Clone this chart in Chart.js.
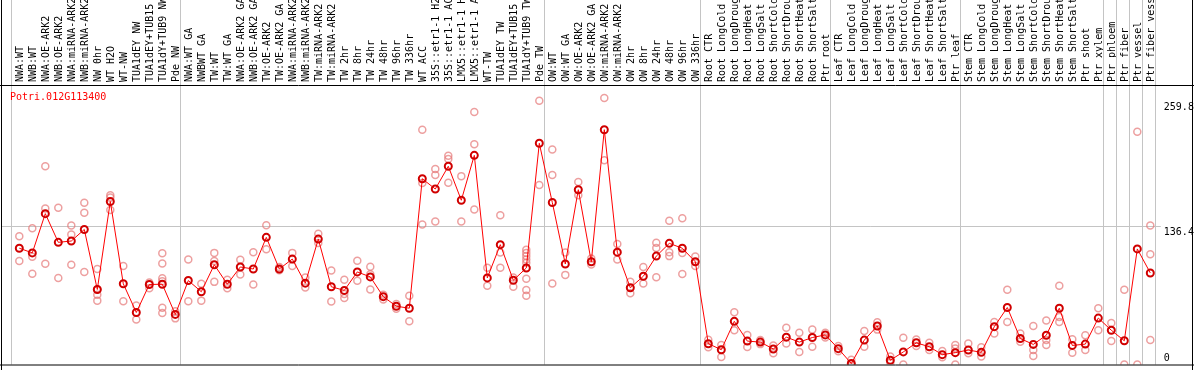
<!DOCTYPE html>
<html>
<head>
<meta charset="utf-8">
<script src="https://cdn.jsdelivr.net/npm/chart.js@4.4.1/dist/chart.umd.min.js"></script>
<style>
  html, body { margin: 0; padding: 0; background: #fff; }
</style>
</head>
<body>
<canvas id="chart" width="1194" height="370"></canvas>
<script>
const geneName = "Potri.012G113400";

const categories = [
  "NWA:WT", "NWB:WT", "NWA:OE-ARK2", "NWB:OE-ARK2", "NWA:miRNA-ARK2", "NWB:miRNA-ARK2",
  "NW 0hr", "WT H2O", "WT-NW", "TUA1dEY NW", "TUA1dEY+TUB15", "TUA1dY+TUB9 NW", "Pde NW",
  "NWA:WT GA", "NWBWT GA", "TW:WT", "TW:WT GA", "NWA:OE-ARK2 GA", "NWB:OE-ARK2 GA",
  "TW:OE-ARK2", "TW:OE-ARK2 GA", "NWA:miRNA-ARK2", "NWB:miRNA-ARK2", "TW:miRNA-ARK2", "TW:miRNA-ARK2",
  "TW 2hr", "TW 8hr", "TW 24hr", "TW 48hr", "TW 96hr", "TW 336hr", "WT ACC",
  "35S::etr1-1 H2", "35S::etr1-1 AC", "LMX5::etr1-1 H", "LMX5::etr1-1 A",
  "WT-TW", "TUA1dEY TW", "TUA1dEY+TUB15", "TUA1dY+TUB9 TW", "Pde TW",
  "OW:WT", "OW:WT GA", "OW:OE-ARK2", "OW:OE-ARK2 GA", "OW:miRNA-ARK2", "OW:miRNA-ARK2",
  "OW 2hr", "OW 8hr", "OW 24hr", "OW 48hr", "OW 96hr", "OW 336hr",
  "Root CTR", "Root LongCold", "Root LongDroug", "Root LongHeat", "Root LongSalt",
  "Root ShortCold", "Root ShortDrou", "Root ShortHeat", "Root ShortSalt", "Ptr root",
  "Leaf CTR", "Leaf LongCold", "Leaf LongDroug", "Leaf LongHeat", "Leaf LongSalt",
  "Leaf ShortCold", "Leaf ShortDrou", "Leaf ShortHeat", "Leaf ShortSalt", "Ptr leaf",
  "Stem CTR", "Stem LongCold", "Stem LongDroug", "Stem LongHeat", "Stem LongSalt",
  "Stem ShortCold", "Stem ShortDrou", "Stem ShortHeat", "Stem ShortSalt", "Ptr shoot",
  "Ptr xylem", "Ptr phloem", "Ptr fiber", "Ptr vessel", "Ptr fiber vess"
];

const meanValues = [
  114.7, 110.1, 148.8, 120.5, 121.8, 133.2, 74.0, 160.8, 79.6, 51.3, 78.9, 79.2, 49.4,
  82.8, 71.8, 98.4, 79.2, 96.2, 94.2, 125.4, 94.2, 104.0, 80.2, 123.7, 76.7,
  73.1, 91.3, 86.4, 66.9, 57.5, 55.5, 183.2, 173.1, 195.5, 162.0, 206.3,
  85.4, 118.2, 83.1, 95.2, 218.2,
  159.8, 99.1, 172.4, 101.3, 231.6, 110.8, 75.7, 87.0, 106.9, 119.5, 114.7, 101.3,
  20.5, 14.6, 42.6, 23.1, 22.1, 15.3, 27.0, 22.1, 26.6, 29.2,
  15.6, 1.0, 24.1, 38.0, 4.2, 12.4, 21.4, 17.5, 9.7, 11.7,
  14.3, 12.0, 37.3, 56.2, 25.6, 19.8, 28.9, 55.5, 18.8, 20.1, 45.8,
  33.8, 23.4, 114.0, 90.3
];

// individual replicates for each category, same order as categories
const replicateValues = [
  [126.4, 102.0], [134.4, 106.2, 89.6], [195.5, 153.9, 99.4], [154.6, 85.4],
  [137.1, 128.3, 98.4], [159.5, 149.7, 91.3], [94.2, 74.3, 68.9, 63.0], [166.9, 164.6, 152.3],
  [97.1, 62.4], [58.2, 44.5], [80.9, 75.3], [109.8, 99.7, 85.1, 82.2, 55.9, 50.7], [52.6, 45.5],
  [103.6, 62.4], [79.6, 63.0], [110.1, 102.0, 81.5], [83.5, 75.3], [103.3, 88.7],
  [110.8, 78.9], [137.4, 113.7], [96.2, 92.9], [110.1, 97.1], [85.7, 76.0],
  [128.9, 119.8], [92.6, 62.1], [83.5, 69.5, 65.6], [102.3, 82.5], [96.5, 89.0, 74.0],
  [68.9, 64.0], [59.7, 54.9], [67.9, 42.6], [231.6, 179.0, 138.1], [192.9, 186.8, 141.0],
  [205.9, 202.7, 179.3], [185.8, 141.0], [249.1, 217.3, 153.0], [95.5, 77.6],
  [147.1, 110.4, 95.5], [85.7, 76.7], [113.3, 110.1, 106.9, 103.6, 100.4, 84.5, 73.4, 67.9],
  [260.1, 177.0],
  [212.1, 186.8, 79.9], [110.4, 88.4], [179.9, 166.9], [104.6, 98.7], [262.8, 201.4],
  [118.9, 103.6], [81.5, 70.4], [96.2, 79.9], [120.1, 115.0, 86.0], [141.9, 110.8, 106.9],
  [144.2, 110.1, 89.3], [106.5, 97.1],
  [24.4, 16.9], [19.2, 7.5], [51.6, 33.8], [29.2, 17.2], [24.1, 20.1], [18.8, 11.0],
  [36.3, 20.8], [31.2, 12.4], [34.4, 17.5], [31.2, 26.6],
  [18.2, 13.0], [4.6, 0], [33.1, 17.5], [41.6, 34.4], [7.8, 1.9], [26.3, 0],
  [24.7, 18.2], [21.4, 14.3], [13.3, 7.1], [19.2, 15.9, 0],
  [20.8, 11.0], [16.9, 7.8], [41.9, 30.5], [73.8, 41.9], [30.5, 22.4], [38.0, 14.3, 8.5],
  [43.5, 24.1, 19.2], [77.6, 46.8, 41.9], [25.0, 11.7], [28.9, 14.3], [55.5, 33.8],
  [40.9, 23.1], [73.8, 0], [229.6, 0], [137.1, 108.8, 24.1]
];

// first category index of each sample group (last entry closes the final group)
const groupStarts = [0, 13, 41, 53, 63, 73, 84, 85, 86, 87, 88];

const yTicks = [0, 136.4, 259.8];
const gridValues = [136.4];
const yMax = 274.7;

const maxReps = Math.max(...replicateValues.map(r => r.length));
const repDatasets = [];
for (let k = 0; k < maxReps; k++) {
  repDatasets.push({
    label: 'rep ' + (k + 1),
    data: replicateValues.map(r => (r[k] === undefined ? null : r[k])),
    showLine: false,
    borderColor: 'rgba(230, 120, 120, 0.7)',
    backgroundColor: 'transparent',
    pointRadius: 3.5,
    pointBorderWidth: 1.5,
    pointHoverRadius: 3.5
  });
}

const decor = {
  id: 'decor',
  beforeDatasetsDraw(chart) {
    const { ctx, chartArea: a, scales: { x, y } } = chart;
    const colW = x.getPixelForValue(1) - x.getPixelForValue(0);
    ctx.save();
    ctx.strokeStyle = '#c4c4c4';
    ctx.lineWidth = 1;
    groupStarts.forEach(g => {
      const px = Math.round(x.getPixelForValue(g) - colW / 2 - 1.5) + 0.5;
      ctx.beginPath();
      ctx.moveTo(px, 0);
      ctx.lineTo(px, a.bottom);
      ctx.stroke();
    });
    gridValues.forEach(v => {
      const py = Math.round(y.getPixelForValue(v)) + 0.5;
      ctx.beginPath();
      ctx.moveTo(1, py);
      ctx.lineTo(a.right + 4, py);
      ctx.stroke();
    });
    ctx.restore();
  },
  afterDraw(chart) {
    const { ctx, chartArea: a, scales: { y }, width, height } = chart;
    ctx.save();
    ctx.strokeStyle = '#000';
    ctx.lineWidth = 1;
    ctx.beginPath();
    ctx.moveTo(0, a.top - 0.5); ctx.lineTo(width, a.top - 0.5);
    ctx.moveTo(0, a.bottom + 0.5); ctx.lineTo(width, a.bottom + 0.5);
    ctx.moveTo(1.5, 0); ctx.lineTo(1.5, height);
    ctx.moveTo(width - 1.5, 0); ctx.lineTo(width - 1.5, height);
    ctx.stroke();

    ctx.font = '10px "DejaVu Sans Mono"';
    ctx.textAlign = 'left';
    ctx.fillStyle = '#000';
    yTicks.forEach(v => {
      let py = y.getPixelForValue(v);
      if (py + 11 > a.bottom) {
        ctx.textBaseline = 'bottom';
        py = a.bottom - 1;
      } else {
        ctx.textBaseline = 'top';
        py += 1;
      }
      ctx.fillText(String(v), a.right + 7, py);
    });

    ctx.fillStyle = '#ff0000';
    ctx.textBaseline = 'top';
    ctx.fillText(geneName, 10, a.top + 6);
    ctx.restore();
  }
};

new Chart(document.getElementById('chart'), {
  type: 'line',
  data: {
    labels: categories,
    datasets: [
      {
        label: 'mean',
        data: meanValues,
        borderColor: '#ff0000',
        borderWidth: 1,
        tension: 0,
        pointBorderColor: '#d00000',
        pointBackgroundColor: 'transparent',
        pointRadius: 3.5,
        pointBorderWidth: 2,
        pointHoverRadius: 3.5
      },
      ...repDatasets
    ]
  },
  options: {
    responsive: false,
    devicePixelRatio: 1,
    animation: false,
    events: [],
    layout: { padding: { left: 12.8, right: 37.2, top: 0, bottom: 2 } },
    plugins: {
      legend: { display: false },
      tooltip: { enabled: false },
      title: { display: false }
    },
    scales: {
      x: {
        position: 'top',
        offset: true,
        grid: { display: false, drawTicks: false },
        border: { display: false },
        ticks: {
          autoSkip: false,
          minRotation: 90,
          maxRotation: 90,
          padding: 4,
          labelOffset: 13,
          color: '#000',
          font: { family: '"DejaVu Sans Mono"', size: 10 }
        },
        afterFit(scale) { scale.height = 86; }
      },
      y: {
        display: false,
        min: 0,
        max: yMax
      }
    }
  },
  plugins: [decor]
});
</script>
</body>
</html>
